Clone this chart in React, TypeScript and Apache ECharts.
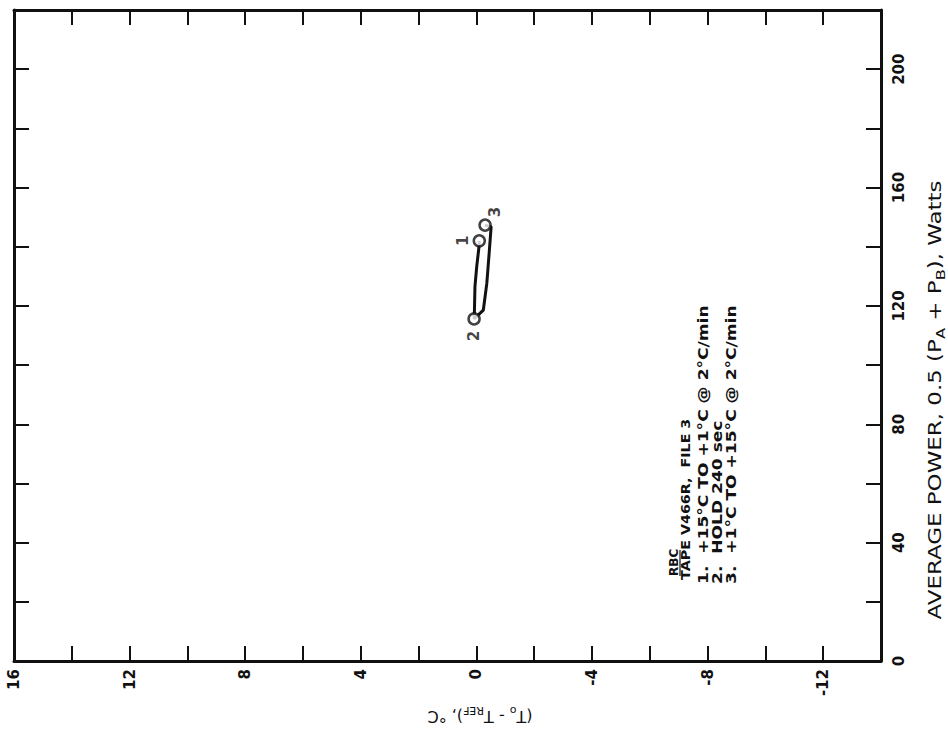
import React, { useEffect, useRef } from "react";
import * as echarts from "echarts";

// Temperature axis (T0 - TREF), °C
const tempMin = -14;
const tempMax = 16;
const tempStep = 2;
const tempLabels = [16, 12, 8, 4, 0, -4, -8, -12];

// Power axis, Watts
const powerMin = 0;
const powerMax = 220;
const powerStep = 20;
const powerLabels = [0, 40, 80, 120, 160, 200];

// Loop trace: [temperature, power]
const loopTemp = [-0.1, -0.09, -0.01, 0.05, 0.07, 0.08, -0.24, -0.36, -0.45, -0.51, -0.3];
const loopPower = [142.0, 140.0, 133.2, 126.5, 117.6, 115.6, 118.6, 127.6, 138.9, 146.8, 147.3];

// Numbered points
const pointNames = ["1", "2", "3"];
const pointTemp = [-0.1, 0.08, -0.3];
const pointPower = [142.0, 115.6, 147.3];

// Annotation lines
const noteTitle = "RBC";
const noteTape = "TAPE V466R,  FILE 3";
const noteSteps = [
  "1.  +15°C TO +1°C @ 2°C/min",
  "2.  HOLD 240 sec",
  "3.  +1°C TO +15°C @ 2°C/min",
];

const FONT = "'DejaVu Sans', sans-serif";

export default function App() {
  const ref = useRef<HTMLDivElement>(null);
  useEffect(() => {
    if (!ref.current) return;
    const chart = echarts.init(ref.current, undefined, { renderer: "svg" });
    const lineData = loopTemp.map((t, i) => [t, loopPower[i]]);
    // offsets are in the label's rotated frame: [along text (screen up), across (screen right)]
    const labelOffsets: Record<string, number[]> = { "1": [0, -16], "2": [-17, 0], "3": [13, 10] };
    const pointData = pointNames.map((n, i) => ({
      value: [pointTemp[i], pointPower[i]],
      name: n,
      label: {
        show: true,
        formatter: n,
        position: "inside",
        offset: labelOffsets[n],
        rotate: 90,
        fontSize: 15,
        fontWeight: "bold",
        color: "#111",
        fontFamily: FONT,
      },
    }));
    const axisLine = { show: true, onZero: false, lineStyle: { color: "#111", width: 3 } };
    const axisTick = { show: true, inside: true, length: 15, lineStyle: { color: "#111", width: 2 } };
    const option: any = {
      animation: false,
      backgroundColor: "#fff",
      grid: { left: 14, right: 67, top: 10, bottom: 88, containLabel: false },
      xAxis: [
        {
          type: "value",
          min: tempMin,
          max: tempMax,
          interval: tempStep,
          inverse: true,
          position: "bottom",
          axisLine,
          axisTick,
          splitLine: { show: false },
          axisLabel: {
            rotate: 90,
            margin: 8,
            fontSize: 15,
            fontWeight: "bold",
            color: "#111",
            fontFamily: FONT,
            showMinLabel: true,
            showMaxLabel: true,
            formatter: (v: number) => (tempLabels.includes(v) ? String(v) : ""),
          },
        },
        {
          type: "value",
          min: tempMin,
          max: tempMax,
          interval: tempStep,
          inverse: true,
          position: "top",
          axisLine,
          axisTick,
          splitLine: { show: false },
          axisLabel: { show: false },
        },
      ],
      yAxis: [
        {
          type: "value",
          min: powerMin,
          max: powerMax,
          interval: powerStep,
          position: "right",
          axisLine,
          axisTick,
          splitLine: { show: false },
          axisLabel: {
            rotate: 90,
            margin: 10,
            fontSize: 15,
            fontWeight: "bold",
            color: "#111",
            fontFamily: FONT,
            formatter: (v: number) => (powerLabels.includes(v) ? String(v) : ""),
          },
        },
        {
          type: "value",
          min: powerMin,
          max: powerMax,
          interval: powerStep,
          position: "left",
          axisLine,
          axisTick,
          splitLine: { show: false },
          axisLabel: { show: false },
        },
      ],
      series: [
        {
          type: "line",
          data: lineData,
          symbol: "none",
          smooth: false,
          lineStyle: { color: "#111", width: 3 },
          z: 2,
        },
        {
          type: "scatter",
          data: pointData,
          symbol: "circle",
          symbolSize: 11,
          itemStyle: { color: "#fff", borderColor: "#111", borderWidth: 2.5 },
          z: 3,
        },
      ],
      graphic: [
        {
          type: "text",
          x: 935,
          y: 400,
          rotation: Math.PI / 2,
          scaleX: 1.35,
          style: {
            text: "AVERAGE POWER, 0.5 (P{sub|A} + P{sub|B}), Watts",
            fontSize: 17,
            fill: "#111",
            fontFamily: FONT,
            align: "center",
            verticalAlign: "middle",
            rich: {
              sub: { fontSize: 12, verticalAlign: "bottom", padding: [12, 0, 0, 0], fill: "#111", fontFamily: FONT },
            },
          },
        },
        {
          type: "text",
          x: 480,
          y: 716,
          rotation: Math.PI,
          style: {
            text: "(T{sub|o} - T{sub|REF}), °C",
            fontSize: 16,
            fill: "#111",
            fontFamily: FONT,
            align: "center",
            verticalAlign: "middle",
            rich: {
              sub: { fontSize: 11, verticalAlign: "bottom", padding: [12, 0, 0, 0], fill: "#111", fontFamily: FONT },
            },
          },
        },
        {
          type: "group",
          x: 668,
          y: 584,
          rotation: Math.PI / 2,
          children: [
            {
              type: "text",
              x: 8,
              y: 6,
              style: { text: noteTitle, fontSize: 12, fontWeight: "bold", fill: "#111", fontFamily: FONT, align: "left", verticalAlign: "middle" },
            },
            {
              type: "line",
              shape: { x1: 8, y1: 12, x2: 34, y2: 12 },
              style: { stroke: "#111", lineWidth: 1.2 },
            },
            {
              type: "text",
              x: 4,
              y: 17,
              scaleX: 1.1,
              style: { text: noteTape, fontSize: 13, fontWeight: "bold", fill: "#111", fontFamily: FONT, align: "left", verticalAlign: "middle" },
            },
            ...noteSteps.map((s, i) => ({
              type: "text",
              x: 0,
              y: 36 + i * 14,
              scaleX: 1.22,
              style: { text: s, fontSize: 14, fontWeight: "bold", fill: "#111", fontFamily: FONT, align: "left", verticalAlign: "middle" },
            })),
          ],
        },
      ],
    };
    chart.setOption(option);
    return () => chart.dispose();
  }, []);
  return <div ref={ref} style={{ width: 948, height: 749, position: "absolute", left: 0, top: 0 }} />;
}
